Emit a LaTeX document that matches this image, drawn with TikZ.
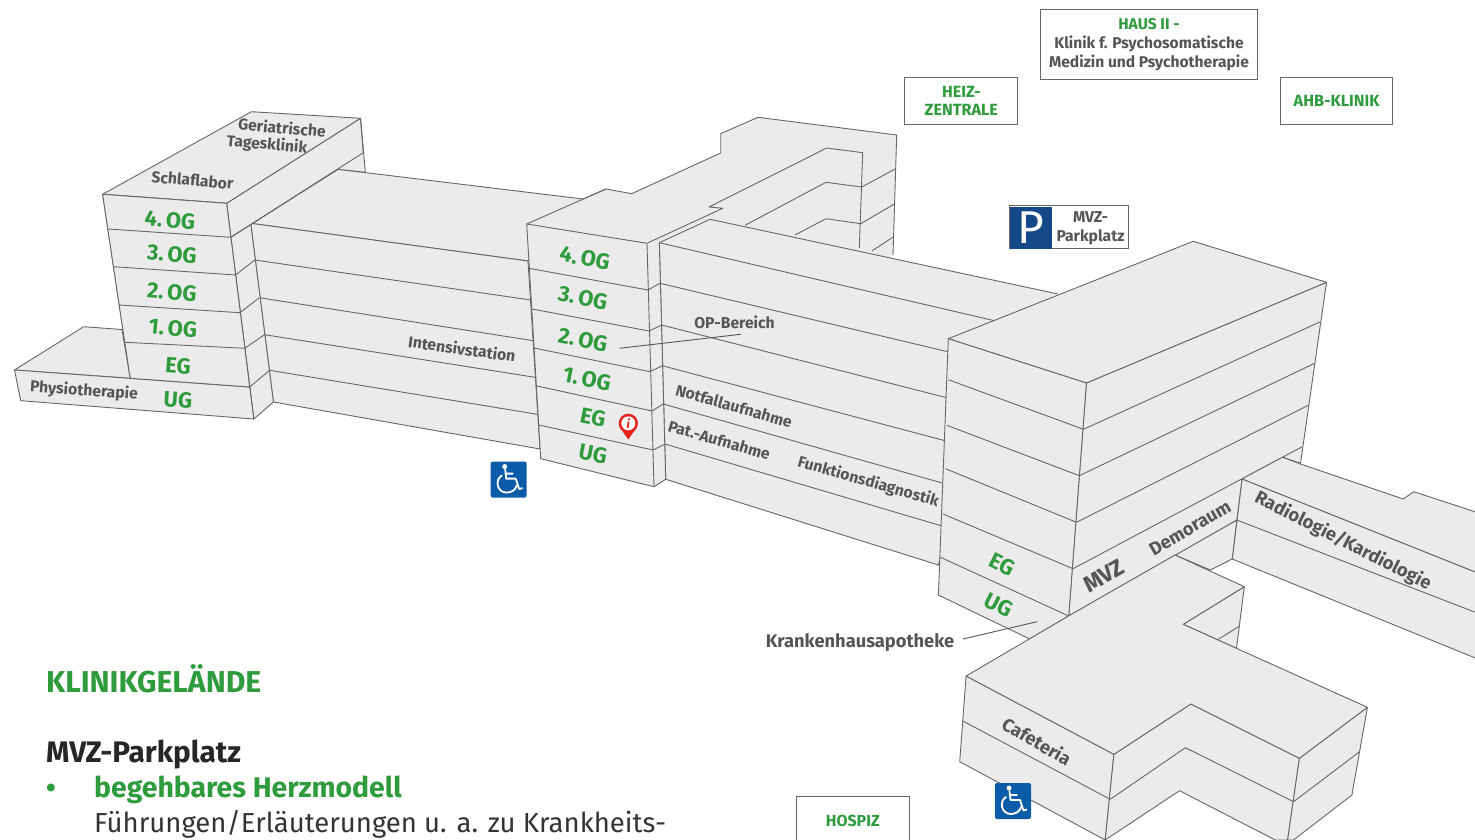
\documentclass[tikz,border=0pt]{standalone}
\usepackage{fontspec}
\setmainfont{Fira Sans}
\definecolor{wallgrey}{HTML}{EBEBEB}
\definecolor{edgegrey}{HTML}{666666}
\definecolor{txtgrey}{HTML}{555555}
\definecolor{klinikgreen}{HTML}{2E9B3C}
\definecolor{chairblue}{HTML}{0B5CA8}
\definecolor{parkblue}{HTML}{15498A}
\definecolor{pinred}{HTML}{E5231B}
\tikzset{
  wall/.style={fill=wallgrey,draw=edgegrey,line width=.9pt,line join=round},
  wallfill/.style={fill=wallgrey},
  edge/.style={draw=edgegrey,line width=.9pt,line join=round},
  lbl/.style={text=txtgrey,font=\fontsize{15.7}{18}\selectfont\bfseries,inner sep=0pt},
  lblbig/.style={lbl,font=\fontsize{18.3}{20}\selectfont\bfseries},
  floorlbl/.style={text=klinikgreen,font=\fontsize{22}{24}\selectfont\bfseries,inner sep=0pt},
  housebox/.style={draw=edgegrey,fill=white,line width=1pt,inner sep=0pt,align=center,text=txtgrey,
    font=\fontsize{15.6}{19}\selectfont\bfseries},
  greenbox/.style={housebox,text=klinikgreen,font=\fontsize{16.2}{18}\selectfont\bfseries},
  chair/.pic={
    \fill[chairblue,rounded corners=2pt] (-18,-18) rectangle (18,18);
    \fill[white] (-4,-13) circle (2.5pt);
    \draw[white,line width=1.8pt,line cap=round,line join=round]
      (-3.5,-10) -- (-2.5,-1) -- (7,-1) -- (10.5,9.5) -- (13.5,8.5)
      (-3,-6) -- (4,-6);
    \draw[white,line width=1.8pt,line cap=round]
      (-7,-4) .. controls (-14,0) and (-12,13) .. (-2,13) .. controls (3,13) and (7,10) .. (8,6);
  }
}
\newcommand{\og}[1]{#1.\hspace{.16em}OG}
\begin{document}
\begin{tikzpicture}[x=1pt,y=-1pt]
  \clip (0,0) rectangle (1475,840);
  % left wing
  \draw[wall] (250.7,223.3) -- (338,169.3) -- (583,199) -- (528,261) -- cycle;
  \draw[wall] (250.7,223.3) -- (528,261) -- (540,449) -- (273.4,402) -- cycle;
  \draw[edge] (254.8,260) -- (531,300) (259.3,297.7) -- (533.3,340.7)
              (264.5,334.7) -- (535,377.3) (269.6,370.3) -- (537.3,414.3);
  % left tower
  \draw[wall] (230.7,237.3) -- (250.7,223.3) -- (273.4,402) -- (253.8,419) -- cycle;
  \draw[edge] (235.5,275) -- (254.8,260) (240,312.7) -- (259.3,297.7)
              (244.8,348.3) -- (264.5,334.7) (249.7,387) -- (269.6,370.3);
  \draw[wall] (226.6,203.3) -- (360.5,118.3) -- (365.4,172.3) -- (338,169.3) -- (230.7,237.3) -- cycle;
  \draw[edge] (360.5,118.3) -- (363.3,152.7) -- (230.7,237.3);
  \draw[wall] (102.6,194.3) -- (251.4,111.7) -- (360.5,118.3) -- (226.6,203.3) -- cycle;
  \draw[wall] (102.6,194.3) -- (226.6,203.3) -- (253.8,419) -- (130.2,378.3) -- cycle;
  \draw[wall] (83.7,326.7) -- (122,329.5) -- (130.2,378.3) -- (14.5,370) -- cycle;
  \draw[wall] (14.5,370) -- (249.7,387) -- (253.8,419) -- (20.7,400.7) -- cycle;
  \fill[wallfill] (226.6,203.3) -- (102.6,194.3) -- (130.2,378.3) -- (249.7,387) -- cycle;
  \draw[edge] (102.6,194.3) -- (130.2,378.3) (226.6,203.3) -- (249.7,387)
              (102.6,194.3) -- (226.6,203.3) (108.5,229) -- (230.7,237.3)
              (113.6,266.7) -- (235.5,275) (119.1,305) -- (240,312.7)
              (125,342.3) -- (244.8,348.3) (130.2,378.3) -- (249.7,387);
  % back wing
  \fill[wallfill] (526.7,224) -- (606,189) -- (631.7,193.7) -- (720.7,153) -- (720.7,133.7) -- (758,117.3)
    -- (896.7,135) -- (893,255) -- (850,290) -- (659.3,242.7) -- (647,243.3) -- cycle;
  \draw[edge] (583,199) -- (606,189) -- (631.7,193.7) -- (720.7,153) -- (720.7,133.7) -- (758,117.3)
    -- (896.7,135) -- (893,255);
  \draw[edge] (647,243.3) -- (722.7,208.3) -- (709,207) -- (826.7,148) -- (862.7,152.7) -- (859.3,248);
  \draw[edge] (745,225.3) -- (826,182.3) -- (861.7,187) -- (895.7,168.7)
              (795,235) -- (826,218.7) -- (860.7,223.7) -- (894.3,204)
              (872.3,250.7) -- (892.7,237.3);
  % right wing
  \fill[wallfill] (659.3,242.7) -- (710,219.3) -- (1058,294) -- (1000,322) -- cycle;
  \draw[edge] (659.3,242.7) -- (710,219.3) -- (1058,294);
  \draw[wall] (659.3,242.7) -- (1000,322) -- (938.4,565) -- (665.7,479.3) -- cycle;
  \draw[edge] (660,283.3) -- (947.7,351.7) (661.7,325) -- (946.7,397.7) (662.3,365.7) -- (945,440.7)
              (663.3,404) -- (943.3,483.3) (665,444) -- (942,526);
  % centre tower
  \fill[wallfill] (647,243.3) -- (659.3,242.7) -- (665.7,479.3) -- (654,486.7) -- cycle;
  \draw[edge] (659.3,242.7) -- (665.7,479.3) -- (654,486.7) (648,290) -- (660,283.3)
              (649,331) -- (661.7,325) (650,371.7) -- (662.3,365.7)
              (652,411) -- (663.3,404) (653,450) -- (665,444);
  \draw[wall] (526.7,224) -- (647,243.3) -- (654,486.7) -- (540.7,458.7) -- cycle;
  \draw[edge] (530,268.5) -- (648,290) (532,309) -- (649,331) (534,348) -- (650,371.7)
              (537,386) -- (652,411) (539,425) -- (653,450);
  \draw[edge] (526.7,224) -- (606,189);
  % radiologie wing
  \draw[wall] (1242,479) -- (1282.8,457.3) -- (1300.5,464) -- (1403.2,499) -- (1413.8,491.7) -- (1490,516.7)
    -- (1490,578) -- cycle;
  \draw[wall] (1242,479) -- (1490,578) -- (1490,664) -- (1232.2,559) -- cycle;
  \draw[edge] (1236.8,520) -- (1490,618);
  % big block
  \draw[wall] (1175,555) -- (1236.8,520) -- (1232.2,559) -- (1210.3,570) -- cycle;
  \draw[wall] (1086.4,383) -- (1326.5,282.3) -- (1300.5,463.3) -- (1282.8,457.3) -- (1242,479) -- (1236.8,520)
    -- (1068.7,616) -- cycle;
  \fill[wallfill] (1282.8,457.3) -- (1300.5,464) -- (1242,479) -- cycle;
  \draw[edge] (1282.8,457.3) -- (1300.5,464);
  \draw[edge] (1083.5,429.3) -- (1320.4,321.7) (1079.3,475.7) -- (1314.7,363.3)
              (1076.5,522.3) -- (1308.3,405.3) (1073,568.7) -- (1302.3,446.7);
  \draw[wall] (948.3,338.7) -- (1193.3,241.3) -- (1326.5,282.3) -- (1086.4,383) -- cycle;
  \draw[wall] (948.3,338.7) -- (1086.4,383) -- (1068.7,616) -- (1029.7,639) -- (938.4,595) -- cycle;
  \draw[edge] (948.3,379.7) -- (1083.5,429.3) (946.9,425.3) -- (1079.3,475.7)
              (945.5,468.7) -- (1076.5,522.3) (943,514) -- (1073,568.7) (940.5,557.3) -- (1068.7,616);
  % cafeteria
  \draw[wall] (1183.2,624.3) -- (1244.3,586.7) -- (1236.5,648.3) -- cycle;
  \draw[edge] (1239.7,626) -- (1218.3,639.3);
  \draw[wall] (966.1,676) -- (1113.9,754.3) -- (1105.2,840) -- (959.7,761.7) -- cycle;
  \draw[edge] (962.9,721) -- (1110.2,799.3);
  \draw[wall] (1113.9,754.3) -- (1190.9,704) -- (1299.4,758.3) -- (1287.6,840) -- (1275.3,840)
    -- (1179.5,790.7) -- (1105.2,840) -- cycle;
  \draw[edge] (1110.2,799.3) -- (1185.4,747.7) -- (1293.5,801.7);
  \draw[wall] (1299.4,758.3) -- (1367.4,707.3) -- (1351.9,795) -- (1293.5,840) -- (1287.6,840) -- cycle;
  \draw[edge] (1359.6,751.7) -- (1293.5,801.7);
  \draw[wall] (1069,615.7) -- (1175,555) -- (1244.3,586.7) -- (1183.2,624.3) -- (1367.4,707.3) -- (1299.4,758.3)
    -- (1190.9,704) -- (1113.9,754.3) -- (966.1,676) -- cycle;
  % floor labels
  \node[floorlbl,rotate=-5]  (og4a) at (170,220) {\og{4}};
  \node[floorlbl,rotate=-5]  (og3a) at (172,254) {\og{3}};
  \node[floorlbl,rotate=-5]  (og2a) at (172,292) {\og{2}};
  \node[floorlbl,rotate=-5]  (og1a) at (173,328) {\og{1}};
  \node[floorlbl,rotate=-4]  (ega)  at (178,365.5) {EG};
  \node[floorlbl,rotate=-4]  (uga)  at (178,399.5) {UG};
  \node[floorlbl,rotate=-11] (og4b) at (585,258) {\og{4}};
  \node[floorlbl,rotate=-11] (og3b) at (583,297.5) {\og{3}};
  \node[floorlbl,rotate=-11] (og2b) at (583,340) {\og{2}};
  \node[floorlbl,rotate=-11] (og1b) at (587,379) {\og{1}};
  \node[floorlbl,rotate=-11] (egb)  at (593,417) {EG};
  \node[floorlbl,rotate=-11] (ugb)  at (593,454) {UG};
  \node[floorlbl,rotate=-27] (egc)  at (1002,564.5) {EG};
  \node[floorlbl,rotate=-27] (ugc)  at (999,605) {UG};
  % room labels
  \node[lbl,rotate=-5]  (geri)   at (282,127.5) {Geriatrische};
  \node[lbl,rotate=-5]  (tages)  at (267,145) {Tagesklinik};
  \node[lbl,rotate=-5]  (schlaf) at (192.5,180) {Schlaflabor};
  \node[lbl,rotate=-4]  (physio) at (84,391) {Physiotherapie};
  \node[lbl,rotate=-8]  (intens) at (462,348.5) {Intensivstation};
  \node[lbl]            (opb)    at (734.5,322.5) {OP-Bereich};
  \node[lbl,rotate=-16] (notf)   at (734,406) {Notfallaufnahme};
  \node[lbl,rotate=-16] (pata)   at (719.3,440) {Pat.-Aufnahme};
  \node[lbl,rotate=-16] (funk)   at (868.3,482) {Funktionsdiagnostik};
  \node[lbl,rotate=30,font=\fontsize{23}{24}\selectfont\bfseries] (mvz) at (1104,576) {MVZ};
  \node[lblbig,rotate=30]  (demo)  at (1190,528) {Demoraum};
  \node[lblbig,rotate=-27] (radio) at (1343,541) {Radiologie/Kardiologie};
  \node[lblbig,rotate=-30] (cafe)  at (1037,741) {Cafeteria};
  \node[lblbig]            (apo)   at (860,642.5) {Krankenhausapotheke};
  % leaders
  \coordinate (opend) at (619.3,348.3);
  \coordinate (opstart) at (740.7,334.3);
  \coordinate (apostart) at (963,639);
  \coordinate (apoend) at (1037,621.7);
  \draw[edge,draw=txtgrey] (opstart) -- (opend);
  \draw[edge,draw=txtgrey] (apostart) -- (apoend);
  % outside buildings
  \node[housebox,minimum width=216.6pt,minimum height=69.7pt] (haus) at (1149,44.2)
    {\textcolor{klinikgreen}{HAUS II -}\\Klinik f. Psychosomatische\\Medizin und Psychotherapie};
  \node[greenbox,minimum width=112.7pt,minimum height=46.7pt] (heiz) at (961.3,101.3) {HEIZ-\\ZENTRALE};
  \node[greenbox,minimum width=112pt,minimum height=46.7pt] (ahb) at (1336.7,101.3) {\raisebox{-2pt}{AHB-KLINIK}};
  \node[housebox,minimum width=118.6pt,minimum height=43pt] (park) at (1069,227.2) {};
  \node[lbl,align=center,font=\fontsize{15.7}{19}\selectfont\bfseries] (parktxt) at (1090.5,228) {MVZ-\\Parkplatz};
  \node[fill=parkblue,text=white,minimum width=42pt,minimum height=42pt,inner sep=0pt,
    font=\fontsize{46}{46}\selectfont] (pfeld) at (1031,227.7) {P};
  \node[greenbox,minimum width=112.5pt,minimum height=88pt] (hospiz) at (852.8,840) {};
  \node[lbl,text=klinikgreen,font=\fontsize{16}{18}\selectfont\bfseries] (hospiztxt) at (852.8,820.5) {HOSPIZ};
  % icons
  \pic at (508.7,479.6) {chair};
  \pic at (1013,801) {chair};
  \fill[pinred] (619.6,427) arc[start angle=180,end angle=360,radius=8.7] -- (628.3,439.5) -- cycle;
  \fill[pinred] (628.3,423.3) circle (9.6pt);
  \fill[white] (628.3,423.3) circle (7pt);
  \node[text=pinred,inner sep=0pt,font=\fontsize{12}{12}\selectfont\bfseries\itshape] (infoi) at (628.3,423.3) {i};
  % text block
  \node[anchor=base west,inner sep=0pt,text=klinikgreen,font=\fontsize{30.2}{32}\selectfont\bfseries] (titel) at (46,692) {KLINIKGELÄNDE};
  \node[anchor=base west,inner sep=0pt,text=black!85,font=\fontsize{29.7}{32}\selectfont\bfseries] (mvzpark) at (46,762) {MVZ-Parkplatz};
  \node[anchor=base west,inner sep=0pt,text=klinikgreen,font=\fontsize{28}{30}\selectfont\bfseries] (punkt) at (46,797) {•};
  \node[anchor=base west,inner sep=0pt,text=klinikgreen,font=\fontsize{28.4}{30}\selectfont\bfseries] (herz) at (94,797) {begehbares Herzmodell};
  \node[anchor=base west,inner sep=0pt,text=black!80,font=\fontsize{27.5}{30}\selectfont] (fuehr) at (94,832) {Führungen/Erläuterungen u. a. zu Krankheits-};
\end{tikzpicture}
\end{document}
